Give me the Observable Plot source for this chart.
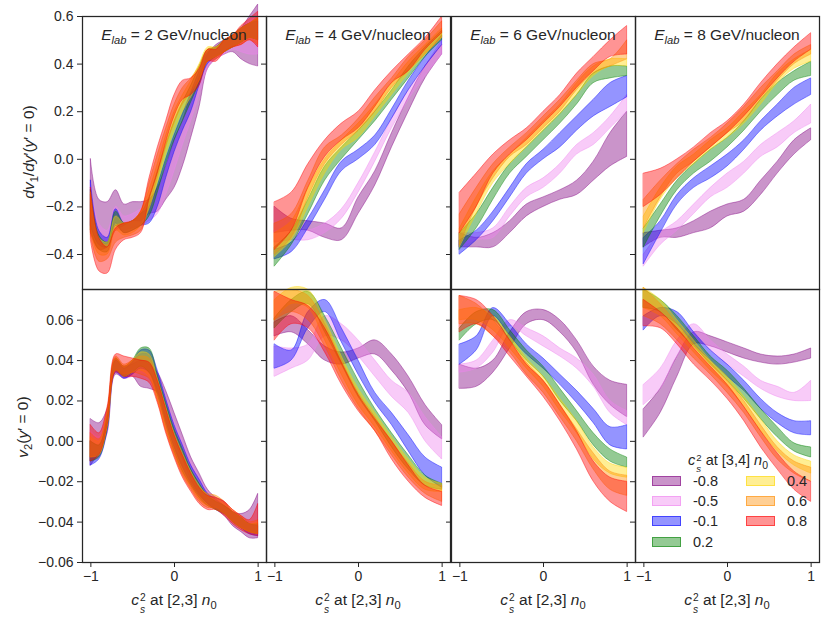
<!DOCTYPE html>
<html>
<head>
<meta charset="utf-8">
<script src="https://cdn.jsdelivr.net/npm/d3@7"></script>
<script src="https://cdn.jsdelivr.net/npm/@observablehq/plot@0.6"></script>
<style>
  body { margin: 0; background: white; }
  #wrap { position: relative; width: 830px; height: 623px; font-family: "Liberation Sans", Arial, sans-serif; color: #262626; }
  .pan { position: absolute; }
  .lbl { position: absolute; white-space: nowrap; font-size: 15.5px; line-height: 1; }
  .ss { display: inline-flex; flex-direction: column; vertical-align: 0.4em; font-size: 0.66em; line-height: 1.16; margin-left: 1px; }
  .ss span, .ss i { display: block; }
  sub, sup { font-size: 0.72em; line-height: 0; }
  .leg { position: absolute; font-size: 14.5px; line-height: 1; white-space: nowrap; }
  .sw { position: absolute; width: 29px; height: 10px; box-sizing: border-box; }
</style>
</head>
<body>
<div id="wrap"></div>
<script>
// ---------------- data ----------------
const cs2Values = ["-0.8", "-0.5", "-0.1", "0.2", "0.4", "0.6", "0.8"];
const bandColors = ["purple", "violet", "blue", "green", "gold", "darkorange", "red"];
const energies = [2, 4, 6, 8];

const xs21 = [-1, -0.9, -0.8, -0.7, -0.6, -0.5, -0.4, -0.3, -0.2, -0.1, 0, 0.1, 0.2, 0.3, 0.4, 0.5, 0.6, 0.7, 0.8, 0.9, 1];
const xs11 = [-1, -0.8, -0.6, -0.4, -0.2, 0, 0.2, 0.4, 0.6, 0.8, 1];

const dv1Ticks = [-0.4, -0.2, 0.0, 0.2, 0.4, 0.6];
const v2Ticks = [-0.06, -0.04, -0.02, 0.0, 0.02, 0.04, 0.06];
const xTicks = [-1, 0, 1];

// each band: [lower, upper] ; order follows cs2Values
const dv1_E2 = [
  [[-0.31,-0.38,-0.37,-0.30,-0.28,-0.26,-0.26,-0.23,-0.22,-0.17,-0.12,-0.03,0.09,0.22,0.38,0.42,0.44,0.45,0.42,0.40,0.39],
   [0.00,-0.17,-0.18,-0.13,-0.19,-0.18,-0.18,-0.17,-0.12,-0.03,0.08,0.16,0.27,0.34,0.44,0.48,0.50,0.52,0.55,0.60,0.65]],
  [[-0.30,-0.36,-0.37,-0.30,-0.30,-0.29,-0.28,-0.26,-0.23,-0.15,-0.05,0.06,0.16,0.27,0.38,0.42,0.44,0.46,0.45,0.44,0.44],
   [-0.10,-0.27,-0.30,-0.20,-0.24,-0.23,-0.21,-0.19,-0.13,-0.04,0.06,0.16,0.26,0.35,0.44,0.47,0.50,0.52,0.55,0.58,0.60]],
  [[-0.28,-0.36,-0.37,-0.27,-0.31,-0.30,-0.28,-0.27,-0.20,-0.08,0.03,0.12,0.20,0.31,0.40,0.43,0.45,0.47,0.49,0.51,0.50],
   [-0.09,-0.30,-0.33,-0.21,-0.27,-0.26,-0.23,-0.20,-0.11,0.00,0.10,0.19,0.28,0.37,0.45,0.47,0.50,0.52,0.55,0.57,0.58]],
  [[-0.30,-0.38,-0.39,-0.28,-0.31,-0.30,-0.28,-0.24,-0.14,-0.02,0.08,0.16,0.24,0.32,0.41,0.43,0.45,0.47,0.49,0.51,0.50],
   [-0.13,-0.32,-0.35,-0.22,-0.27,-0.26,-0.23,-0.16,-0.05,0.06,0.16,0.24,0.31,0.39,0.46,0.47,0.50,0.52,0.55,0.57,0.59]],
  [[-0.30,-0.40,-0.40,-0.30,-0.32,-0.31,-0.28,-0.21,-0.10,0.02,0.12,0.20,0.26,0.33,0.41,0.43,0.45,0.47,0.49,0.51,0.50],
   [-0.14,-0.33,-0.35,-0.24,-0.27,-0.26,-0.22,-0.13,-0.02,0.10,0.20,0.27,0.33,0.40,0.47,0.47,0.50,0.52,0.55,0.57,0.59]],
  [[-0.32,-0.43,-0.42,-0.35,-0.33,-0.32,-0.30,-0.20,-0.08,0.05,0.15,0.23,0.28,0.33,0.41,0.42,0.45,0.47,0.48,0.50,0.48],
   [-0.15,-0.34,-0.36,-0.28,-0.27,-0.26,-0.22,-0.10,0.02,0.13,0.23,0.30,0.34,0.39,0.46,0.47,0.50,0.52,0.55,0.57,0.60]],
  [[-0.34,-0.47,-0.48,-0.38,-0.34,-0.33,-0.31,-0.17,-0.06,0.07,0.18,0.25,0.27,0.31,0.41,0.41,0.45,0.47,0.48,0.50,0.47],
   [-0.12,-0.33,-0.37,-0.29,-0.27,-0.26,-0.22,-0.08,0.05,0.16,0.27,0.33,0.34,0.38,0.46,0.46,0.50,0.52,0.56,0.59,0.62]]
];

const dv1_E4 = [
  [[-0.31,-0.30,-0.30,-0.33,-0.34,-0.23,-0.11,0.05,0.20,0.34,0.44],[-0.20,-0.25,-0.26,-0.27,-0.29,-0.16,-0.05,0.11,0.26,0.39,0.48]],
  [[-0.35,-0.34,-0.34,-0.31,-0.25,-0.14,-0.01,0.13,0.25,0.35,0.44],[-0.30,-0.30,-0.30,-0.27,-0.21,-0.10,0.03,0.17,0.29,0.39,0.50]],
  [[-0.42,-0.39,-0.29,-0.17,-0.05,0.00,0.06,0.17,0.29,0.39,0.48],[-0.38,-0.35,-0.25,-0.13,-0.01,0.04,0.10,0.21,0.33,0.43,0.52]],
  [[-0.45,-0.36,-0.23,-0.09,0.00,0.08,0.16,0.25,0.34,0.43,0.50],[-0.37,-0.30,-0.17,-0.03,0.05,0.12,0.20,0.29,0.39,0.47,0.54]],
  [[-0.41,-0.34,-0.20,-0.06,0.04,0.09,0.18,0.27,0.36,0.44,0.51],[-0.31,-0.26,-0.12,0.00,0.08,0.15,0.23,0.32,0.41,0.48,0.55]],
  [[-0.40,-0.33,-0.16,-0.02,0.06,0.12,0.20,0.30,0.37,0.44,0.51],[-0.27,-0.23,-0.09,0.05,0.10,0.17,0.26,0.34,0.43,0.50,0.58]],
  [[-0.38,-0.30,-0.12,0.01,0.08,0.13,0.22,0.32,0.37,0.46,0.53],[-0.18,-0.14,-0.02,0.08,0.15,0.20,0.29,0.37,0.44,0.51,0.60]]
];

const dv1_E6 = [
  [[-0.37,-0.37,-0.37,-0.31,-0.24,-0.20,-0.17,-0.15,-0.09,-0.03,0.01],[-0.31,-0.33,-0.31,-0.26,-0.19,-0.16,-0.13,-0.09,-0.01,0.11,0.20]],
  [[-0.37,-0.34,-0.33,-0.24,-0.16,-0.12,-0.06,0.02,0.06,0.13,0.20],[-0.31,-0.31,-0.29,-0.20,-0.12,-0.08,-0.02,0.06,0.11,0.18,0.27]],
  [[-0.40,-0.34,-0.26,-0.16,-0.06,0.00,0.05,0.12,0.18,0.22,0.26],[-0.34,-0.30,-0.22,-0.12,-0.02,0.04,0.11,0.18,0.25,0.32,0.35]],
  [[-0.38,-0.29,-0.17,-0.06,0.01,0.08,0.15,0.23,0.32,0.34,0.35],[-0.31,-0.23,-0.12,-0.02,0.05,0.12,0.19,0.27,0.36,0.39,0.39]],
  [[-0.37,-0.23,-0.10,-0.02,0.05,0.12,0.19,0.27,0.35,0.39,0.39],[-0.29,-0.16,-0.05,0.02,0.09,0.16,0.23,0.32,0.39,0.42,0.42]],
  [[-0.36,-0.20,-0.08,0.01,0.06,0.13,0.20,0.29,0.36,0.39,0.42],[-0.23,-0.12,-0.02,0.05,0.11,0.18,0.25,0.33,0.40,0.42,0.50]],
  [[-0.31,-0.20,-0.06,0.02,0.08,0.15,0.22,0.30,0.37,0.43,0.44],[-0.14,-0.06,0.02,0.08,0.13,0.20,0.27,0.36,0.43,0.50,0.56]]
];

const dv1_E8 = [
  [[-0.37,-0.33,-0.33,-0.31,-0.29,-0.24,-0.22,-0.15,-0.06,0.02,0.08],[-0.31,-0.30,-0.29,-0.26,-0.22,-0.19,-0.17,-0.09,-0.01,0.08,0.13]],
  [[-0.45,-0.36,-0.30,-0.23,-0.16,-0.12,-0.06,0.01,0.05,0.11,0.15],[-0.40,-0.31,-0.26,-0.19,-0.12,-0.06,-0.01,0.06,0.11,0.16,0.23]],
  [[-0.44,-0.31,-0.19,-0.12,-0.08,-0.03,0.04,0.12,0.18,0.23,0.27],[-0.33,-0.26,-0.15,-0.08,-0.03,0.02,0.08,0.16,0.23,0.30,0.34]],
  [[-0.37,-0.24,-0.13,-0.06,-0.01,0.05,0.12,0.20,0.27,0.33,0.35],[-0.29,-0.19,-0.09,-0.02,0.04,0.09,0.16,0.25,0.32,0.37,0.41]],
  [[-0.31,-0.17,-0.08,-0.02,0.04,0.09,0.15,0.23,0.32,0.38,0.41],[-0.24,-0.12,-0.03,0.02,0.08,0.13,0.20,0.27,0.36,0.42,0.46]],
  [[-0.29,-0.16,-0.06,-0.01,0.05,0.11,0.16,0.25,0.33,0.40,0.44],[-0.17,-0.09,-0.02,0.04,0.09,0.15,0.22,0.30,0.37,0.44,0.48]],
  [[-0.20,-0.15,-0.08,-0.01,0.05,0.11,0.18,0.26,0.34,0.41,0.46],[-0.06,-0.04,0.00,0.05,0.11,0.16,0.23,0.32,0.40,0.47,0.53]]
];

const v2_E2 = [
  [[-0.012,-0.006,0.004,0.033,0.031,0.032,0.027,0.026,0.024,0.012,0.000,-0.009,-0.019,-0.026,-0.031,-0.034,-0.037,-0.042,-0.045,-0.048,-0.048],
   [0.011,0.009,0.016,0.040,0.037,0.038,0.040,0.038,0.034,0.025,0.014,0.003,-0.008,-0.016,-0.024,-0.028,-0.030,-0.035,-0.036,-0.034,-0.026]],
  [[-0.010,-0.008,0.004,0.034,0.031,0.032,0.034,0.032,0.024,0.010,-0.002,-0.012,-0.020,-0.026,-0.031,-0.034,-0.036,-0.040,-0.043,-0.046,-0.047],
   [0.005,0.002,0.013,0.041,0.037,0.039,0.043,0.043,0.034,0.022,0.010,0.000,-0.010,-0.018,-0.025,-0.029,-0.031,-0.035,-0.038,-0.040,-0.040]],
  [[-0.012,-0.009,0.005,0.034,0.031,0.033,0.036,0.034,0.025,0.010,-0.003,-0.013,-0.021,-0.027,-0.031,-0.034,-0.036,-0.040,-0.043,-0.046,-0.047],
   [0.000,-0.002,0.012,0.040,0.036,0.039,0.045,0.045,0.035,0.021,0.008,-0.002,-0.012,-0.019,-0.026,-0.029,-0.032,-0.035,-0.038,-0.041,-0.042]],
  [[-0.010,-0.008,0.006,0.035,0.032,0.034,0.037,0.034,0.023,0.008,-0.005,-0.015,-0.022,-0.028,-0.032,-0.034,-0.036,-0.040,-0.043,-0.045,-0.046],
   [0.000,-0.002,0.013,0.041,0.037,0.040,0.046,0.046,0.033,0.019,0.006,-0.004,-0.014,-0.021,-0.027,-0.030,-0.032,-0.035,-0.038,-0.041,-0.041]],
  [[-0.008,-0.007,0.007,0.035,0.032,0.034,0.035,0.032,0.021,0.006,-0.006,-0.016,-0.023,-0.029,-0.032,-0.034,-0.036,-0.040,-0.043,-0.045,-0.046],
   [0.002,0.000,0.014,0.041,0.037,0.040,0.044,0.043,0.031,0.017,0.004,-0.006,-0.015,-0.022,-0.027,-0.029,-0.031,-0.035,-0.038,-0.041,-0.040]],
  [[-0.008,-0.006,0.008,0.035,0.033,0.034,0.033,0.031,0.020,0.005,-0.007,-0.017,-0.024,-0.030,-0.033,-0.033,-0.036,-0.040,-0.043,-0.045,-0.046],
   [0.004,0.001,0.015,0.042,0.038,0.040,0.042,0.041,0.030,0.016,0.003,-0.007,-0.016,-0.023,-0.026,-0.027,-0.030,-0.034,-0.037,-0.040,-0.039]],
  [[-0.010,-0.007,0.008,0.034,0.032,0.032,0.031,0.029,0.019,0.004,-0.008,-0.018,-0.025,-0.031,-0.034,-0.034,-0.037,-0.041,-0.044,-0.046,-0.047],
   [0.008,0.004,0.017,0.043,0.042,0.041,0.040,0.039,0.030,0.016,0.003,-0.007,-0.016,-0.023,-0.027,-0.028,-0.030,-0.034,-0.037,-0.039,-0.031]]
];

const v2_E4 = [
  [[0.052,0.054,0.048,0.040,0.038,0.041,0.043,0.035,0.024,0.008,0.001],[0.059,0.062,0.055,0.047,0.044,0.046,0.050,0.043,0.032,0.018,0.008]],
  [[0.032,0.036,0.040,0.052,0.050,0.042,0.032,0.022,0.014,0.000,-0.009],[0.047,0.046,0.048,0.062,0.058,0.050,0.040,0.030,0.024,0.012,0.002]],
  [[0.036,0.040,0.056,0.064,0.049,0.033,0.019,0.008,-0.005,-0.017,-0.023],[0.048,0.045,0.064,0.070,0.056,0.040,0.024,0.014,0.003,-0.008,-0.013]],
  [[0.056,0.064,0.068,0.054,0.038,0.022,0.010,-0.003,-0.014,-0.022,-0.024],[0.061,0.070,0.074,0.062,0.046,0.030,0.016,0.004,-0.007,-0.017,-0.021]],
  [[0.060,0.068,0.066,0.050,0.033,0.018,0.007,-0.005,-0.016,-0.024,-0.025],[0.070,0.076,0.075,0.060,0.042,0.026,0.014,0.002,-0.009,-0.018,-0.021]],
  [[0.060,0.064,0.060,0.047,0.030,0.016,0.005,-0.007,-0.018,-0.026,-0.030],[0.074,0.075,0.072,0.058,0.040,0.024,0.012,0.000,-0.011,-0.020,-0.022]],
  [[0.050,0.058,0.056,0.044,0.028,0.015,0.005,-0.009,-0.020,-0.028,-0.032],[0.074,0.070,0.067,0.056,0.039,0.023,0.011,0.000,-0.012,-0.022,-0.025]]
];

const v2_E6 = [
  [[0.026,0.027,0.034,0.046,0.058,0.060,0.054,0.044,0.028,0.018,0.012],[0.038,0.036,0.040,0.054,0.064,0.065,0.060,0.050,0.037,0.030,0.028]],
  [[0.034,0.036,0.044,0.057,0.052,0.047,0.042,0.036,0.027,0.014,0.008],[0.038,0.040,0.050,0.060,0.056,0.052,0.046,0.041,0.033,0.020,0.015]],
  [[0.038,0.045,0.062,0.052,0.043,0.036,0.028,0.019,0.009,-0.002,-0.004],[0.048,0.052,0.066,0.058,0.048,0.041,0.033,0.025,0.016,0.007,0.008]],
  [[0.050,0.058,0.060,0.050,0.040,0.032,0.020,0.010,-0.002,-0.010,-0.013],[0.056,0.064,0.065,0.055,0.045,0.037,0.026,0.015,0.004,-0.004,-0.008]],
  [[0.060,0.060,0.055,0.046,0.036,0.027,0.015,0.004,-0.009,-0.016,-0.018],[0.065,0.066,0.062,0.052,0.041,0.032,0.021,0.010,-0.003,-0.011,-0.013]],
  [[0.058,0.058,0.052,0.044,0.033,0.024,0.012,0.000,-0.014,-0.024,-0.027],[0.072,0.068,0.060,0.050,0.039,0.030,0.018,0.006,-0.006,-0.015,-0.017]],
  [[0.054,0.058,0.052,0.042,0.032,0.022,0.010,-0.004,-0.020,-0.030,-0.035],[0.072,0.070,0.062,0.050,0.038,0.030,0.018,0.005,-0.010,-0.018,-0.020]]
];

const v2_E8 = [
  [[0.002,0.014,0.032,0.048,0.047,0.044,0.041,0.039,0.038,0.039,0.041],[0.016,0.026,0.042,0.054,0.052,0.049,0.046,0.043,0.042,0.043,0.046]],
  [[0.018,0.026,0.042,0.052,0.045,0.038,0.032,0.026,0.022,0.020,0.020],[0.028,0.036,0.050,0.058,0.050,0.043,0.037,0.030,0.027,0.024,0.030]],
  [[0.055,0.062,0.058,0.048,0.040,0.032,0.025,0.016,0.009,0.004,0.003],[0.062,0.066,0.064,0.054,0.045,0.038,0.030,0.021,0.014,0.010,0.010]],
  [[0.066,0.064,0.055,0.047,0.038,0.030,0.021,0.011,0.002,-0.005,-0.008],[0.075,0.070,0.062,0.052,0.042,0.035,0.026,0.016,0.007,-0.001,-0.003]],
  [[0.066,0.062,0.053,0.044,0.035,0.027,0.017,0.005,-0.005,-0.012,-0.016],[0.076,0.070,0.060,0.050,0.040,0.032,0.022,0.011,0.000,-0.007,-0.010]],
  [[0.062,0.058,0.050,0.041,0.033,0.024,0.014,0.002,-0.009,-0.016,-0.020],[0.076,0.068,0.058,0.048,0.039,0.030,0.020,0.008,-0.003,-0.010,-0.013]],
  [[0.057,0.056,0.048,0.038,0.030,0.021,0.010,-0.003,-0.014,-0.024,-0.030],[0.070,0.064,0.056,0.046,0.037,0.028,0.017,0.005,-0.006,-0.015,-0.020]]
];

// ---------------- layout ----------------
const wrap = document.getElementById("wrap");
const panelLeft = [82, 266, 451, 635];
const panelW = 184, panelH = 273;
const rowTop = [16, 289];
const fontStack = "'Liberation Sans', Arial, sans-serif";

const fmtX = d3.format("d");
const fmtDv1 = d3.format(".1f");
const fmtV2 = d3.format(".2f");

function panel(xs, bands, yDomain, yTicks, yFmt, firstCol, bottomRow) {
  const marks = bands.map((b, i) => {
    const rows = xs.map((x, j) => ({x, lo: b[0][j], hi: b[1][j]}));
    return Plot.areaY(rows, {
      x: "x", y1: "lo", y2: "hi", curve: "catmull-rom",
      fill: bandColors[i], fillOpacity: 0.42,
      stroke: bandColors[i], strokeOpacity: 0.42, strokeWidth: 1
    });
  });
  marks.push(Plot.frame({stroke: "#262626", strokeWidth: 1.25}));
  return Plot.plot({
    width: panelW, height: panelH,
    marginTop: 0, marginRight: 0, marginBottom: 0, marginLeft: 0,
    style: {background: "transparent", overflow: "visible", fontFamily: fontStack, fontSize: "14px", color: "#262626"},
    x: bottomRow
      ? {domain: [-1.1, 1.1], ticks: xTicks, tickFormat: fmtX, tickSize: 5, tickPadding: 4, label: null}
      : {domain: [-1.1, 1.1], axis: null},
    y: {domain: yDomain, ticks: yTicks, tickFormat: firstCol ? yFmt : () => "", tickSize: 5, tickPadding: 4, label: null},
    marks
  });
}

const topBands = [dv1_E2, dv1_E4, dv1_E6, dv1_E8];
const botBands = [v2_E2, v2_E4, v2_E6, v2_E8];
const cs2Html = `<i>c</i><span class="ss"><span>2</span><i>s</i></span>`;

energies.forEach((e, k) => {
  const xs = k === 0 ? xs21 : xs11;
  const t = panel(xs, topBands[k], [-0.547, 0.6], dv1Ticks, fmtDv1, k === 0, false);
  const b = panel(xs, botBands[k], [-0.06, 0.0752], v2Ticks, fmtV2, k === 0, true);
  for (const [svg, top] of [[t, rowTop[0]], [b, rowTop[1]]]) {
    const d = document.createElement("div");
    d.className = "pan";
    d.style.left = panelLeft[k] + "px";
    d.style.top = top + "px";
    d.appendChild(svg);
    wrap.appendChild(d);
  }
  // panel title
  const ti = document.createElement("div");
  ti.className = "lbl";
  ti.style.left = (panelLeft[k] + panelW / 2) + "px";
  ti.style.top = "27px";
  ti.style.transform = "translateX(-50%)";
  ti.innerHTML = `<i>E</i><sub><i>lab</i></sub> = ${e} GeV/nucleon`;
  wrap.appendChild(ti);
  // x label
  const xl = document.createElement("div");
  xl.className = "lbl";
  xl.style.left = (panelLeft[k] + panelW / 2) + "px";
  xl.style.top = "592px";
  xl.style.transform = "translateX(-50%)";
  xl.innerHTML = `${cs2Html} at [2,3] <i>n</i><sub>0</sub>`;
  wrap.appendChild(xl);
});

// y labels
const yl1 = document.createElement("div");
yl1.className = "lbl";
yl1.style.left = "29px"; yl1.style.top = "152px";
yl1.style.transform = "translate(-50%,-50%) rotate(-90deg)";
yl1.innerHTML = `<i>dv</i><sub>1</sub>/<i>dy</i>′(<i>y</i>′ = 0)`;
wrap.appendChild(yl1);

const yl2 = document.createElement("div");
yl2.className = "lbl";
yl2.style.left = "23px"; yl2.style.top = "427px";
yl2.style.transform = "translate(-50%,-50%) rotate(-90deg)";
yl2.innerHTML = `<i>v</i><sub>2</sub>(<i>y</i>′ = 0)`;
wrap.appendChild(yl2);

// legend
const lt = document.createElement("div");
lt.className = "leg";
lt.style.left = "728px"; lt.style.top = "452px";
lt.style.transform = "translateX(-50%)";
lt.innerHTML = `${cs2Html} at [3,4] <i>n</i><sub>0</sub>`;
wrap.appendChild(lt);

const legCol = [[652, 693], [746, 787]];
const legRowY = [481, 501, 521, 542];
cs2Values.forEach((v, i) => {
  const col = i < 4 ? 0 : 1;
  const row = i < 4 ? i : i - 4;
  const sw = document.createElement("div");
  sw.className = "sw";
  sw.style.left = legCol[col][0] + "px";
  sw.style.top = (legRowY[row] - 5) + "px";
  const c = d3.color(bandColors[i]);
  sw.style.background = c.copy({opacity: 0.42}).formatRgb();
  sw.style.border = `1px solid ${c.copy({opacity: 0.55}).formatRgb()}`;
  wrap.appendChild(sw);
  const tx = document.createElement("div");
  tx.className = "leg";
  tx.style.left = legCol[col][1] + "px";
  tx.style.top = (legRowY[row] - 7) + "px";
  tx.textContent = v;
  wrap.appendChild(tx);
});
</script>
</body>
</html>
